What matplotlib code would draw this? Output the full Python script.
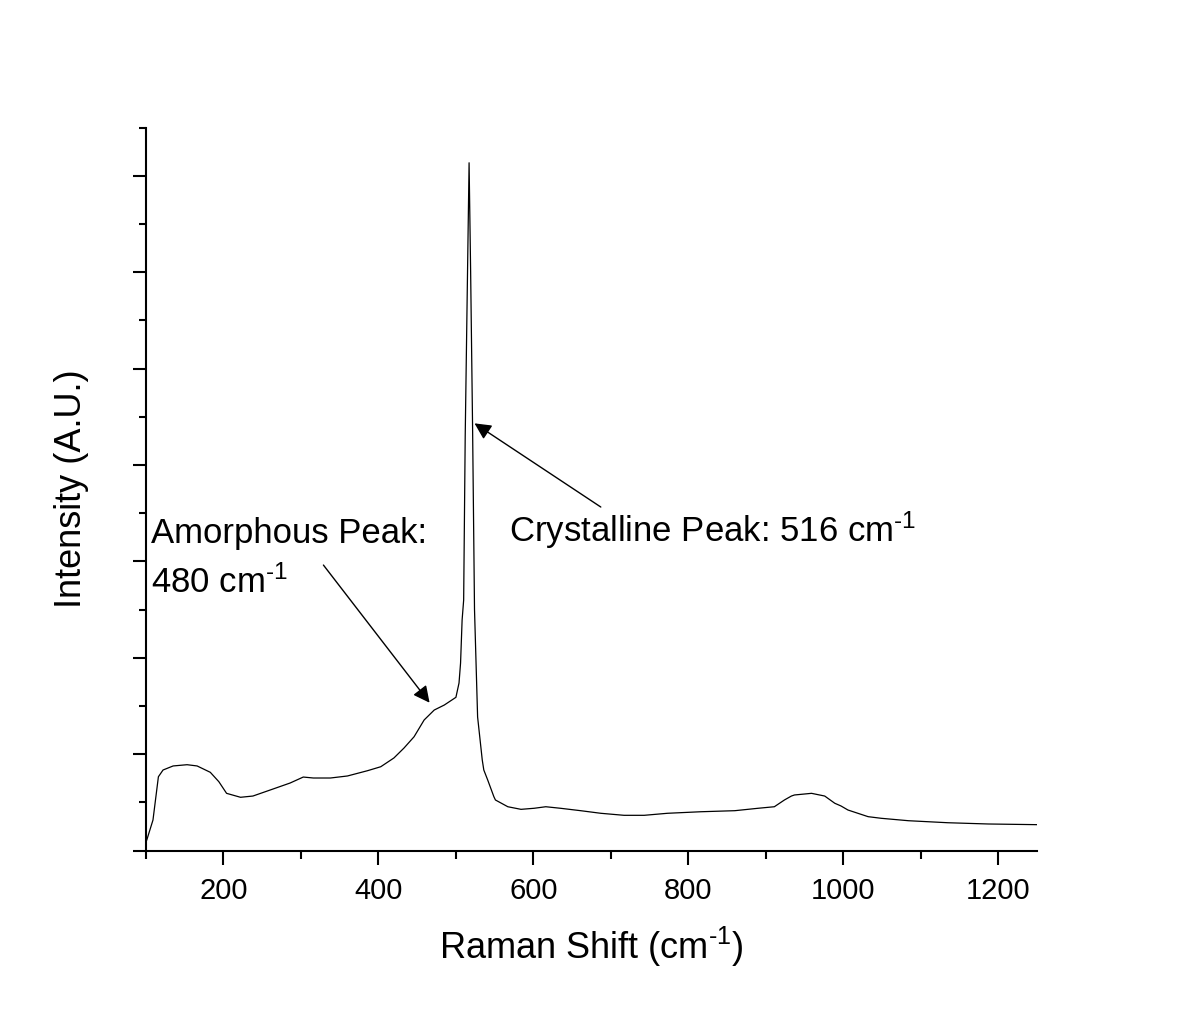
import matplotlib.pyplot as plt
from matplotlib.ticker import MultipleLocator

# Raman spectrum, values (arbitrary units)
raman_shift = [101, 109, 116, 122, 135, 153, 166, 183, 194, 204, 222, 238, 264, 286,
               303, 316, 338, 360, 386, 403, 420, 433, 446, 459, 472, 485, 500, 504,
               506, 508, 510, 512, 515, 517, 519, 521.5, 524, 528, 534, 536, 541,
               549, 551, 567, 584, 601, 616, 635, 661, 687, 717, 743, 773, 816, 860,
               890, 911, 924, 933, 937, 959, 976, 989, 997, 1006, 1032, 1049, 1084,
               1135, 1187, 1250]
intensity = [109, 316, 765, 835, 877, 890, 877, 811, 714, 593, 552, 565, 638, 700,
             762, 752, 752, 773, 828, 869, 960, 1063, 1180, 1354, 1457, 1509, 1589, 1737,
             1945, 2391, 2598, 4300, 6006, 7134, 6006, 4400, 2500, 1385, 939, 835, 732,
             558, 524, 454, 427, 438, 454, 438, 413, 386, 365, 365, 386, 402, 413,
             438, 454, 524, 565, 576, 593, 565, 490, 462, 420, 351, 334, 309,
             288, 275, 268]

amorphous_peak = 480
crystalline_peak = 516

INV = r'$^{\text{-}1}$'


def plot():
    plt.rcParams['font.family'] = ['Liberation Sans', 'DejaVu Sans']
    plt.rcParams['mathtext.fontset'] = 'custom'
    plt.rcParams['mathtext.rm'] = 'Liberation Sans'
    plt.rcParams['mathtext.default'] = 'regular'

    fig = plt.figure(figsize=(12, 10.18), dpi=100)
    ax = fig.add_axes([146 / 1200, 1 - 850.5 / 1018, (1037 - 146) / 1200, (850.5 - 127.5) / 1018])

    ax.plot(raman_shift, intensity, color='black', lw=0.9)

    ax.set_xlim(100, 1250)
    ax.set_ylim(0, 7500)

    ax.xaxis.set_major_locator(MultipleLocator(200))
    ax.xaxis.set_minor_locator(MultipleLocator(100))
    ax.yaxis.set_major_locator(MultipleLocator(1000))
    ax.yaxis.set_minor_locator(MultipleLocator(500))
    ax.set_yticklabels([])

    ax.spines['top'].set_visible(False)
    ax.spines['right'].set_visible(False)
    for s in ['left', 'bottom']:
        ax.spines[s].set_linewidth(1.5)

    ax.tick_params(axis='x', which='major', direction='out', length=10, width=1.5,
                   labelsize=21, pad=9)
    ax.tick_params(axis='x', which='minor', direction='out', length=5.5, width=1.5)
    ax.tick_params(axis='y', which='major', direction='out', length=9.5, width=1.5)
    ax.tick_params(axis='y', which='minor', direction='out', length=5, width=1.5)

    ax.set_xlabel('Raman Shift (cm' + INV + ')', fontsize=26, labelpad=14)
    ax.set_ylabel('Intensity (A.U.)', fontsize=26, labelpad=28)

    # Annotations
    arrow = dict(arrowstyle='-|>', color='black', lw=1, mutation_scale=25, shrinkA=0, shrinkB=0)
    ax.annotate('', xy=(466, 1533), xytext=(329, 2961), arrowprops=arrow)
    ax.annotate('', xy=(524, 4431), xytext=(687, 3563), arrowprops=arrow)

    ax.text(106, 2671, 'Amorphous Peak:\n%d cm' % amorphous_peak + INV, fontsize=25,
            va='baseline', linespacing=1.55)
    ax.text(569, 3200, 'Crystalline Peak: %d cm' % crystalline_peak + INV, fontsize=25,
            va='baseline')

    plt.savefig('out.png')


if __name__ == '__main__':
    plot()
